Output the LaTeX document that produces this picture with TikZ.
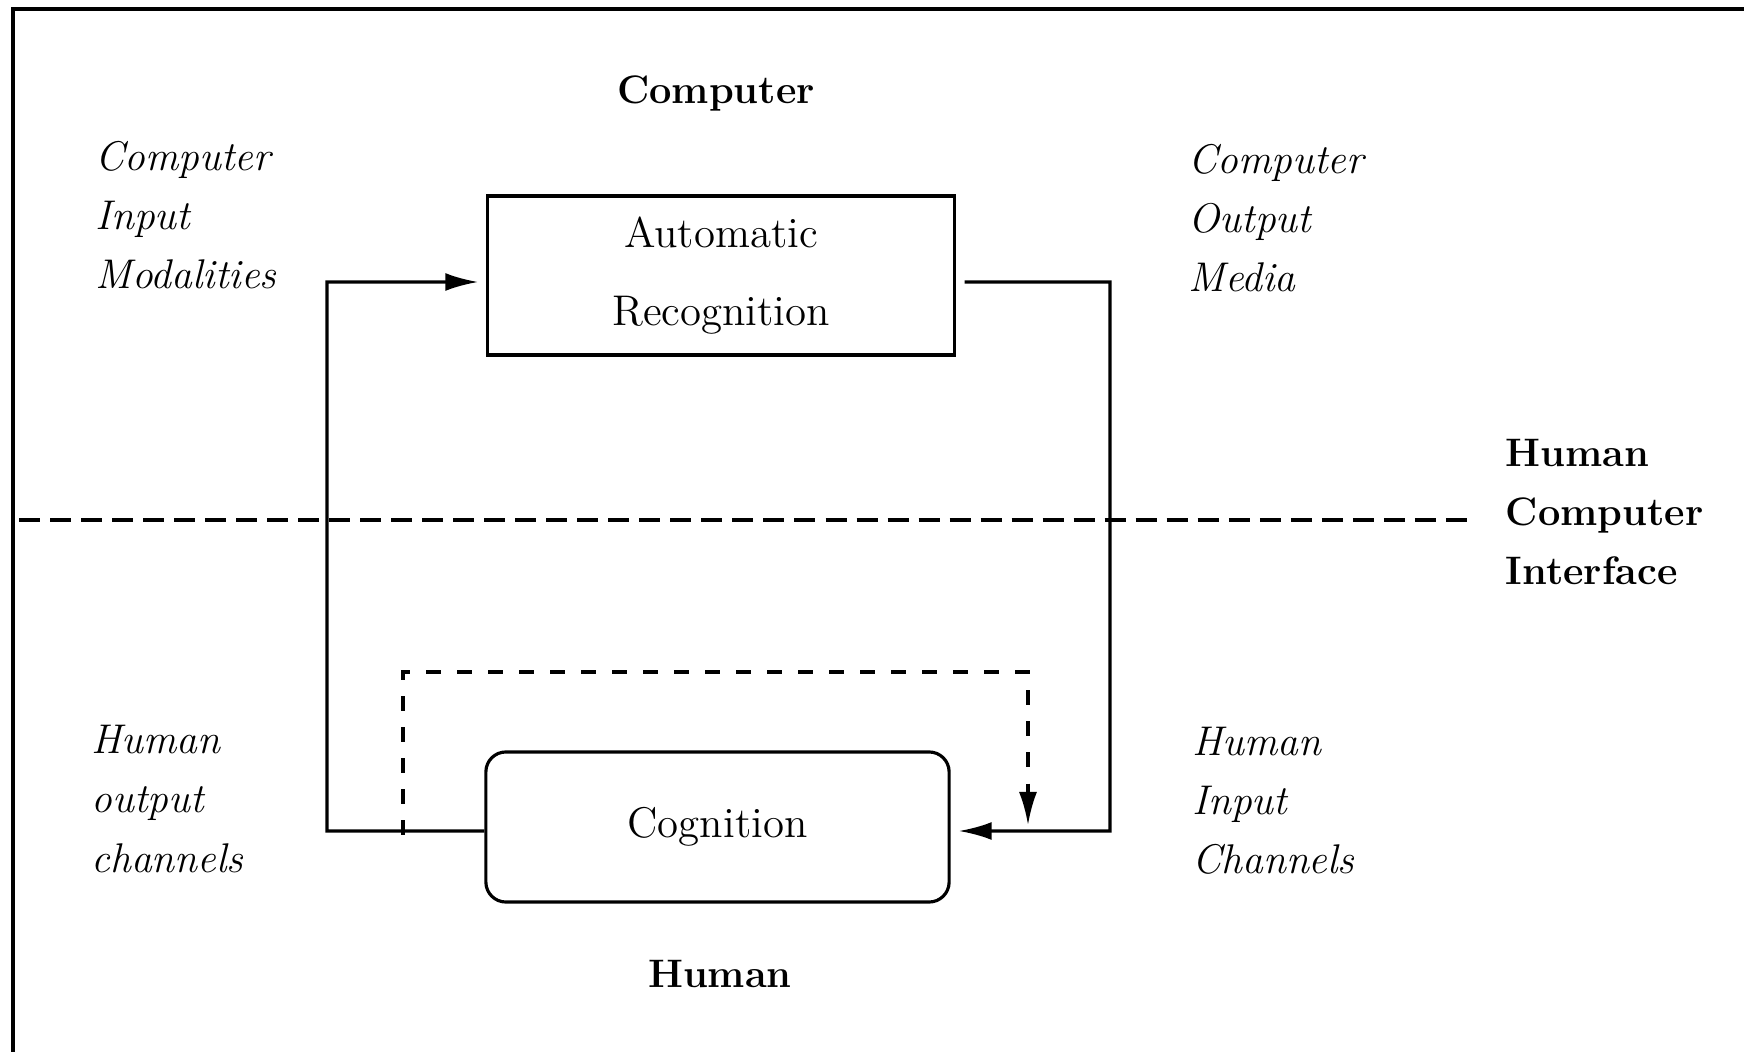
\documentclass[tikz,border=0pt]{standalone}
\usetikzlibrary{arrows.meta}
\begin{document}
\begin{tikzpicture}[x=0.01cm,y=-0.01cm,
  conn/.style={line width=0.9pt, line join=miter},
  tip/.style={-{Latex[length=0.33cm,width=0.18cm]}},
  boxA/.style={draw, line width=0.9pt, minimum width=4.66cm, minimum height=1.59cm, align=center, inner sep=0pt, font=\fontsize{12.2}{22}\selectfont},
  boxC/.style={draw, line width=0.9pt, rounded corners=0.2cm, minimum width=4.63cm, minimum height=1.50cm, align=center, inner sep=0pt, font=\fontsize{12.2}{22}\selectfont},
  lab/.style={anchor=west, align=left, inner sep=0pt, font=\itshape\fontsize{11.8}{16.8}\selectfont},
  blab/.style={align=left, inner sep=0pt, font=\bfseries\fontsize{11.3}{16.8}\selectfont}]
\useasboundingbox (0,0) rectangle (1744,1052);
% frame (top and left edges visible)
\coordinate (F1) at (13,1060);
\coordinate (F2) at (13,9);
\coordinate (F3) at (1760,9);
\draw[line width=0.9pt] (F1) -- (F2) -- (F3);

% titles
\node[blab] (tcomp) at (716,93) {Computer};
\node[blab] (thum) at (720,974) {Human};
\node[blab, anchor=west] (hci) at (1505,512) {Human\\Computer\\Interface};

% side labels
\node[lab] (cim) at (95,215) {Computer\\Input\\Modalities};
\node[lab] (com) at (1188,218) {Computer\\Output\\Media};
\node[lab] (hoc) at (91,799) {Human\\output\\channels};
\node[lab] (hic) at (1192,801) {Human\\Input\\Channels};

% boxes
\node[boxA] (auto) at (721,275.5) {Automatic\\Recognition};
\node[boxC] (cog) at (717.5,827) {Cognition};

% interface dashed line
\coordinate (S1) at (19,520);
\coordinate (S2) at (1470,520);
\draw[line width=0.9pt, dash pattern=on 0.21cm off 0.10cm] (S1) -- (S2);

% left loop: human output -> automatic recognition
\coordinate (L1) at (327,831);
\coordinate (L2) at (327,282);
\draw[conn, tip, shorten >=0.08cm] ([yshift=-0.04cm]cog.west) -- (L1) -- (L2) -- ([yshift=-0.065cm]auto.west);

% right loop: computer output -> cognition
\coordinate (R1) at (1110,282);
\coordinate (R2) at (1110,831);
\draw[conn, tip, shorten >=0.08cm] ([yshift=-0.065cm,xshift=0.09cm]auto.east) -- (R1) -- (R2) -- ([yshift=-0.04cm]cog.east);

% dashed feedback loop
\coordinate (D0) at (403,835);
\coordinate (D1) at (403,672);
\coordinate (D2) at (1028,672);
\coordinate (D3) at (1028,825);
\draw[conn, tip, dash pattern=on 0.15cm off 0.16cm] (D0) -- (D1) -- (D2) -- (D3);
\end{tikzpicture}
\end{document}
